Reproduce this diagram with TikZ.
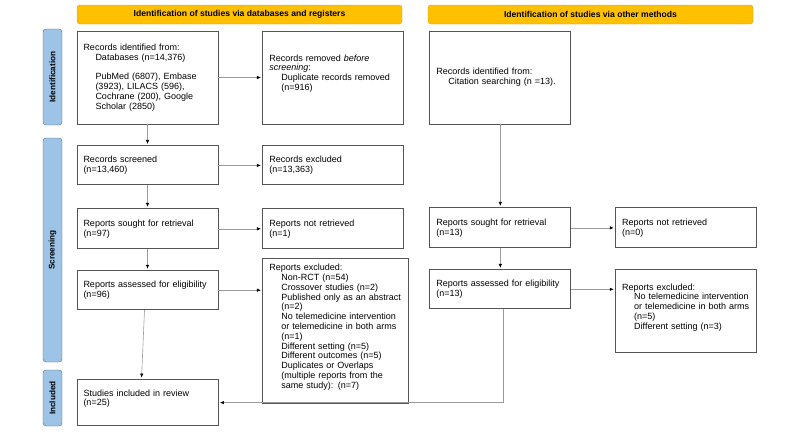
\documentclass[tikz,border=0pt]{standalone}
\usepackage{fontspec}
\setmainfont{Liberation Sans}
\usepackage{tikz}
\usetikzlibrary{arrows.meta,calc,positioning}

\definecolor{headfill}{RGB}{255,192,0}
\definecolor{headline}{RGB}{205,160,40}
\definecolor{sidefill}{RGB}{157,195,230}
\definecolor{sideline}{RGB}{85,105,130}
\definecolor{boxline}{RGB}{85,85,85}
\definecolor{arrline}{RGB}{155,155,155}

\newcommand{\ind}{\hspace*{12pt}}

\tikzset{
  box/.style={draw=boxline, line width=0.9pt, text width=128pt, inner xsep=6.5pt,
    align=left, font=\fontsize{9}{9.8}\selectfont},
  head/.style={draw=headline, fill=headfill, rounded corners=3pt, minimum width=325pt,
    minimum height=19pt, font=\bfseries\fontsize{8.6}{9}\selectfont},
  side/.style={draw=sideline, fill=sidefill, rounded corners=3pt, rotate=90,
    minimum height=19pt, inner sep=0pt, font=\bfseries\fontsize{8.2}{9}\selectfont},
  arr/.style={draw=arrline, line width=0.6pt, shorten >=1.5pt,
    -{Latex[black,length=4pt,width=3.5pt]}},
}

\begin{document}
\begin{tikzpicture}[x=1pt,y=-1pt]

  \useasboundingbox (0,0) rectangle (800,431);

  \node[head] (hdb)  at (239.5,14.5) {Identification of studies via databases and registers};
  \node[head] (hoth) at (590.5,14.5) {Identification of studies via other methods};

  \node[side, minimum width=96pt]  (sid)  at (52.5,77)  {Identification};
  \node[side, minimum width=224pt] (sscr) at (52.5,250) {Screening};
  \node[side, minimum width=56pt]  (sinc) at (52.5,398) {Included};

  \node[box, minimum height=93pt] (recid) at (147.5,77.5)
    {Records identified from:\\
     \ind Databases (n=14,376)\\[9.8pt]
     \ind PubMed (6807), Embase\\
     \ind (3923), LILACS (596),\\
     \ind Cochrane (200), Google\\
     \ind Scholar (2850)};
  \node[box, minimum height=93pt, right=44pt of recid] (recrem)
    {Records removed \emph{before}\\
     \emph{screening}:\\
     \ind Duplicate records removed\\
     \ind (n=916)\\ \mbox{}};
  \node[box, minimum height=93pt, right=25pt of recrem] (othid)
    {Records identified from:\\
     \ind Citation searching (n =13).};

  \node[box, minimum height=39pt, below=21pt of recid] (screen)
    {Records screened\\(n=13,460)};
  \node[box, minimum height=39pt, right=44pt of screen] (excl)
    {Records excluded\\(n=13,363)};

  \node[box, minimum height=40pt, below=23pt of screen] (sought)
    {Reports sought for retrieval\\(n=97)};
  \node[box, minimum height=40pt, right=44pt of sought] (notret)
    {Reports not retrieved\\(n=1)};
  \node[box, minimum height=40pt, below=83pt of othid] (osought)
    {Reports sought for retrieval\\(n=13)};
  \node[box, minimum height=40pt, right=44pt of osought] (onotret)
    {Reports not retrieved\\(n=0)};

  \node[box, minimum height=39pt, below=21pt of sought] (assess)
    {Reports assessed for eligibility\\(n=96)};
  \node[box, minimum height=145pt, text width=133pt, below=9pt of notret,
    xshift=2.5pt] (repexcl)
    {Reports excluded:\\
     \ind Non-RCT (n=54)\\
     \ind Crossover studies (n=2)\\
     \ind Published only as an abstract\\
     \ind (n=2)\\
     \ind No telemedicine intervention\\
     \ind or telemedicine in both arms\\
     \ind (n=1)\\
     \ind Different setting (n=5)\\
     \ind Different outcomes (n=5)\\
     \ind Duplicates or Overlaps\\
     \ind (multiple reports from the\\
     \ind same study): (n=7)\\ \mbox{}};
  \node[box, minimum height=39pt, below=21pt of osought] (oassess)
    {Reports assessed for eligibility\\(n=13)};
  \node[box, minimum height=83pt, below=21pt of onotret] (oexcl)
    {Reports excluded:\\
     \ind No telemedicine intervention\\
     \ind or telemedicine in both arms\\
     \ind (n=5)\\
     \ind Different setting (n=3)\\ \mbox{}};

  \node[box, minimum height=46pt, below=69pt of assess] (included)
    {Studies included in review\\(n=25)\\ \mbox{}};

  \draw[arr] (recid) -- (recrem);
  \draw[arr] (recid) -- (screen);
  \draw[arr] (screen) -- (excl);
  \draw[arr] (screen) -- (sought);
  \draw[arr] (sought) -- (notret);
  \draw[arr] (sought) -- (assess);
  \draw[arr] (assess.east) -- (assess.east -| repexcl.west);
  \draw[arr] ([xshift=-3pt]assess.south) -- ([xshift=-6pt]included.north);

  \draw[arr] (othid) -- (osought);
  \draw[arr] (osought) -- (onotret);
  \draw[arr] (osought) -- (oassess);
  \draw[arr] (oassess.east) -- (oassess.east -| oexcl.west);
  \draw[arr] ([xshift=3pt]oassess.south) |- (included.east);

\end{tikzpicture}
\end{document}
